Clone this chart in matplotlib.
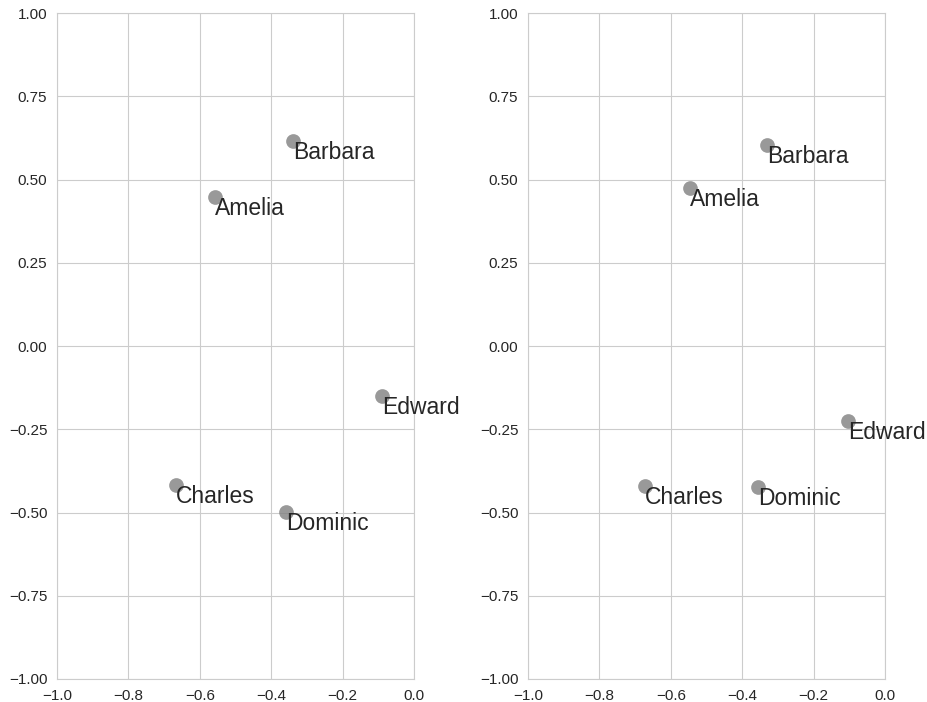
import matplotlib
matplotlib.use("Agg")
import matplotlib.pyplot as plt
import seaborn as sns
import numpy as np

names = ["Amelia", "Barbara", "Charles", "Dominic", "Edward"]

# two embeddings of the same five people
left_x = [-0.557, -0.339, -0.667, -0.359, -0.090]
left_y = [0.447, 0.617, -0.416, -0.497, -0.149]

right_x = [-0.545, -0.331, -0.672, -0.355, -0.104]
right_y = [0.474, 0.604, -0.420, -0.423, -0.224]

x_ticks = [-1.0, -0.8, -0.6, -0.4, -0.2, 0.0]
y_ticks = [-1.0, -0.75, -0.5, -0.25, 0.0, 0.25, 0.5, 0.75, 1.0]

sns.set_style("whitegrid")
plt.rcParams["font.family"] = ["Liberation Sans", "DejaVu Sans"]
plt.rcParams["axes.unicode_minus"] = True

fig = plt.figure(figsize=(9.27, 7.02), dpi=100)
ax1 = fig.add_axes([57 / 927, 1 - 679 / 702, 357 / 927, 666 / 702])
ax2 = fig.add_axes([528 / 927, 1 - 679 / 702, 357 / 927, 666 / 702])

for ax, xs, ys in [(ax1, left_x, left_y), (ax2, right_x, right_y)]:
    ax.scatter(xs, ys, s=112, color="gray", alpha=0.8, linewidths=0, zorder=3)
    for name, x, y in zip(names, xs, ys):
        ax.text(x, y, name, fontsize=16.5, color="#262626",
                ha="left", va="top", zorder=4, clip_on=False)
    ax.set_xlim(-1, 0)
    ax.set_ylim(-1, 1)
    ax.set_xticks(x_ticks)
    ax.set_yticks(y_ticks)
    ax.set_xticklabels([f"{t:.1f}".replace("-", "\u2212") for t in x_ticks])
    ax.set_yticklabels([f"{t:.2f}".replace("-", "\u2212") for t in y_ticks])
    ax.tick_params(labelsize=11, colors="#262626", pad=3.5)
    for sp in ax.spines.values():
        sp.set_color("#cccccc")

fig.savefig("out.png", dpi=100)
